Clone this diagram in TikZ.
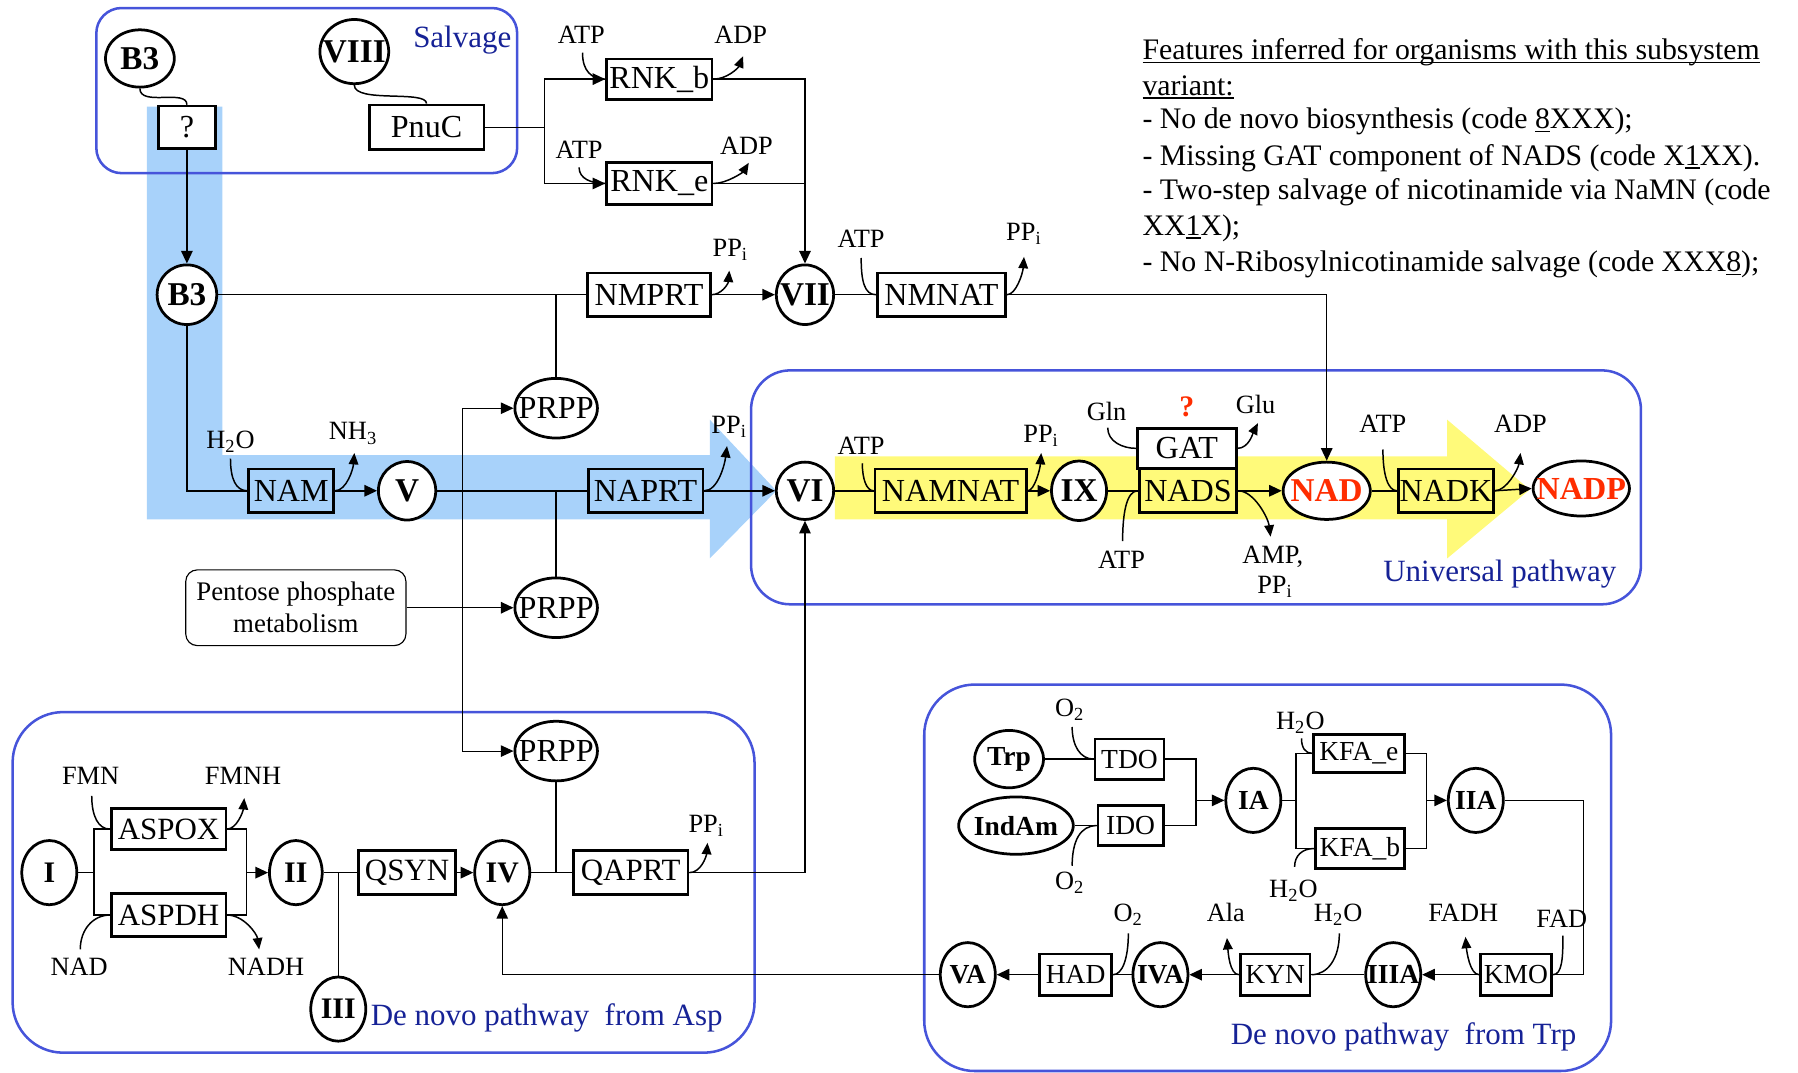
\documentclass[tikz,border=0pt]{standalone}
\usepackage{fontspec}
\setmainfont{Liberation Serif}
\usetikzlibrary{arrows.meta,shapes.geometric}
\definecolor{regblue}{RGB}{70,84,218}
\definecolor{txtblue}{RGB}{22,34,150}
\definecolor{bandblue}{RGB}{168,210,250}
\definecolor{bandyellow}{RGB}{255,250,122}
\definecolor{nadred}{RGB}{255,45,0}
\newcommand\fzEnz{\fontsize{14}{16}\selectfont}
\newcommand\fzAsp{\fontsize{13.5}{16}\selectfont}
\newcommand\fzTrp{\fontsize{12}{14}\selectfont}
\newcommand\fzLab{\fontsize{11.5}{13}\selectfont}
\newcommand\fzMet{\fontsize{14.5}{16}\selectfont\bfseries}
\newcommand\fzMetA{\fontsize{13}{15}\selectfont\bfseries}
\newcommand\fzMetT{\fontsize{12}{14}\selectfont\bfseries}
\newcommand\fzReg{\fontsize{13.5}{16}\selectfont}
\newcommand\fzFeat{\fontsize{13}{15}\selectfont}
\newcommand\zb[1]{\makebox[0pt]{#1}}
\newcommand\myul[1]{\leavevmode\setbox0\hbox{#1}\rlap{\rule[-1.6pt]{\wd0}{0.6pt}}\box0}
\pgfdeclarelayer{band}
\pgfdeclarelayer{bg}
\pgfsetlayers{band,bg,main}
\begin{document}
\begin{tikzpicture}[x=0.5pt,y=-0.5pt,
  enz/.style={draw, line width=1.2pt, inner sep=0pt, font=\fzEnz},
  aenz/.style={enz, font=\fzAsp},
  tenz/.style={enz, font=\fzTrp},
  met/.style={ellipse, draw, line width=1.2pt, fill=white, inner sep=0pt, font=\fzMet},
  amet/.style={met, font=\fzMetA},
  tmet/.style={met, font=\fzMetT},
  lab/.style={inner sep=0pt, font=\fzLab},
  ln/.style={line width=0.65pt},
  arr/.style={line width=0.65pt, -{Triangle[length=5.5pt,width=5pt]}},
  tarr/.style={line width=0.45pt, -{Triangle[length=5.5pt,width=5pt]}},
  sarr/.style={line width=0.65pt, -{Triangle[length=5pt,width=4.2pt]}},
  region/.style={draw=regblue, line width=1.1pt},
  reglab/.style={inner sep=0pt, font=\fzReg, text=txtblue, anchor=base west},
  feat/.style={inner sep=0pt, font=\fzFeat, anchor=base west}]
\useasboundingbox (0,0) rectangle (1568,935);
\clip (0,0) rectangle (1568,935);

% ---------- nodes: salvage ----------
\node[met, minimum width=30pt, minimum height=25pt] (b3a) at (122,51) {\zb{B3}};
\node[met, minimum width=30pt, minimum height=28pt] (viii) at (309,45) {\zb{VIII}};
\node[enz, fill=white, minimum width=25pt, minimum height=18.5pt] (q) at (163,111) {?};
\node[enz, fill=white, minimum width=50pt, minimum height=19.5pt] (pnuc) at (372,111) {PnuC};
\node[enz, fill=white, minimum width=46pt, minimum height=17.5pt] (rnkb) at (575,69) {RNK\_b};
\node[enz, fill=white, minimum width=46pt, minimum height=18.5pt] (rnke) at (575,160) {RNK\_e};
\node[met, minimum width=26pt, minimum height=26pt] (b3) at (163,257) {\zb{B3}};
\node[enz, minimum width=53.5pt, minimum height=19pt] (nmprt) at (566,257) {NMPRT};
\node[met, minimum width=25pt, minimum height=26pt] (vii) at (702,257) {\zb{VII}};
\node[enz, minimum width=56pt, minimum height=19pt] (nmnat) at (821,257) {NMNAT};
\node[met, font=\fzEnz, minimum width=36pt, minimum height=26pt] (prpp1) at (485,356) {\zb{PRPP}};
\node[met, font=\fzEnz, minimum width=36pt, minimum height=26pt] (prpp2) at (485,530) {\zb{PRPP}};
\node[met, font=\fzEnz, minimum width=36pt, minimum height=26pt] (prpp3) at (485,655) {\zb{PRPP}};
\node[enz, minimum width=37pt, minimum height=19pt] (nam) at (254,428) {NAM};
\node[met, minimum width=25pt, minimum height=25.5pt] (v) at (355,428) {\zb{V}};
\node[enz, minimum width=50pt, minimum height=19pt] (naprt) at (563,428) {NAPRT};
\node[draw, line width=0.5pt, rounded corners=5pt, minimum width=96pt, minimum height=33pt,
  align=center, inner sep=0pt, font=\fontsize{11.7}{14}\selectfont] (pent) at (258,530) {Pentose phosphate\\metabolism};

% ---------- universal ----------
\node[met, minimum width=25pt, minimum height=25pt] (vi) at (702,428) {\zb{VI}};
\node[enz, minimum width=66pt, minimum height=19pt] (namnat) at (829,428) {NAMNAT};
\node[met, minimum width=24pt, minimum height=26pt] (ix) at (941,428) {\zb{IX}};
\node[enz, minimum width=42.5pt, minimum height=19pt] (nads) at (1036,428) {NADS};
\node[enz, fill=white, minimum width=43pt, minimum height=17.5pt] (gat) at (1035,391) {GAT};
\node[met, text=nadred, minimum width=38pt, minimum height=25pt] (nad) at (1157,428) {\zb{NAD}};
\node[enz, minimum width=41.5pt, minimum height=19pt] (nadk) at (1261,428) {NADK};
\node[met, font=\fontsize{14}{16}\selectfont\bfseries, text=nadred, minimum width=42pt, minimum height=24pt] (nadp) at (1379,426) {\zb{NADP}};

% ---------- Asp ----------
\node[amet, minimum width=24pt, minimum height=28pt] (i) at (43,761) {\zb{I}};
\node[aenz, minimum width=50pt, minimum height=18pt] (aspox) at (147,723) {ASPOX};
\node[aenz, minimum width=50pt, minimum height=18.5pt] (aspdh) at (147,798) {ASPDH};
\node[amet, minimum width=23pt, minimum height=28pt] (ii) at (258,761) {\zb{II}};
\node[aenz, minimum width=42.5pt, minimum height=19pt] (qsyn) at (355,761) {QSYN};
\node[amet, minimum width=24pt, minimum height=28pt] (iii) at (295,880) {\zb{III}};
\node[amet, minimum width=24pt, minimum height=28pt] (iv) at (438,761) {\zb{IV}};
\node[aenz, minimum width=50pt, minimum height=19pt] (qaprt) at (550,761) {QAPRT};

% ---------- Trp ----------
\node[tmet, minimum width=30pt, minimum height=25pt] (trp) at (880,662) {\zb{Trp}};
\node[tmet, minimum width=50pt, minimum height=25pt] (indam) at (886,720) {\zb{IndAm}};
\node[tenz, minimum width=30pt, minimum height=17.5pt] (tdo) at (985,662) {TDO};
\node[tenz, minimum width=28.5pt, minimum height=17.5pt] (ido) at (986,720) {IDO};
\node[tmet, minimum width=24pt, minimum height=28pt] (ia) at (1093,698) {\zb{IA}};
\node[tenz, minimum width=39.5pt, minimum height=16.5pt] (kfae) at (1185,657) {KFA\_e};
\node[tenz, minimum width=39pt, minimum height=17.5pt] (kfab) at (1186,740) {KFA\_b};
\node[tmet, minimum width=24pt, minimum height=28pt] (iia) at (1287,698) {\zb{IIA}};
\node[tenz, minimum width=31pt, minimum height=18pt] (kmo) at (1322,850) {KMO};
\node[tmet, minimum width=24pt, minimum height=28pt] (iiia) at (1215,850) {\zb{IIIA}};
\node[tenz, minimum width=30.5pt, minimum height=18pt] (kyn) at (1112,850) {KYN};
\node[tmet, minimum width=24pt, minimum height=28pt] (iva) at (1012,850) {\zb{IVA}};
\node[tenz, minimum width=31.5pt, minimum height=18pt] (had) at (938,850) {HAD};
\node[tmet, minimum width=24pt, minimum height=28pt] (va) at (844,850) {\zb{VA}};

% ---------- labels ----------
\node[lab] (l1) at (507,30) {ATP};
\node[lab] (l2) at (646,30) {ADP};
\node[lab] (l3) at (505,131) {ATP};
\node[lab] (l4) at (651,127) {ADP};
\node[lab] (l5) at (637,218) {PP\textsubscript{i}};
\node[lab] (l6) at (751,208) {ATP};
\node[lab] (l7) at (893,204) {PP\textsubscript{i}};
\node[lab] (l8) at (201,385) {H\textsubscript{2}O};
\node[lab] (l9) at (308,378) {NH\textsubscript{3}};
\node[lab] (l10) at (636,372) {PP\textsubscript{i}};
\node[lab] (l11) at (751,389) {ATP};
\node[lab] (l12) at (908,380) {PP\textsubscript{i}};
\node[lab] (l13) at (965,359) {Gln};
\node[inner sep=0pt, font=\fontsize{13}{15}\selectfont\bfseries, text=nadred] (l14) at (1035,355) {?};
\node[lab] (l15) at (1095,353) {Glu};
\node[lab] (l16) at (978,488) {ATP};
\node[lab] (l17) at (1110,486) {AMP,};
\node[lab] (l18) at (1112,512) {PP\textsubscript{i}};
\node[lab] (l19) at (1206,370) {ATP};
\node[lab] (l20) at (1326,370) {ADP};
\node[lab] (l21) at (79,677) {FMN};
\node[lab] (l22) at (212,677) {FMNH};
\node[lab] (l23) at (69,843) {NAD};
\node[lab] (l24) at (232,843) {NADH};
\node[lab] (l25) at (616,720) {PP\textsubscript{i}};
\node[lab] (l26) at (933,619) {O\textsubscript{2}};
\node[lab] (l27) at (933,770) {O\textsubscript{2}};
\node[lab] (l28) at (1134,630) {H\textsubscript{2}O};
\node[lab] (l29) at (1128,777) {H\textsubscript{2}O};
\node[lab] (l30) at (984,798) {O\textsubscript{2}};
\node[lab] (l31) at (1069,796) {Ala};
\node[lab] (l32) at (1167,798) {H\textsubscript{2}O};
\node[lab] (l33) at (1276,796) {FADH};
\node[lab] (l34) at (1362,801) {FAD};

\node[reglab] (rsalv) at (360,41) {Salvage};
\node[reglab] (runiv) at (1206,507) {Universal pathway};
\node[reglab] (rasp) at (323,894) {De novo pathway\enspace from Asp};
\node[reglab] (rtrp) at (1073,911) {De novo pathway\enspace from Trp};

\node[feat] (f1) at (996,52) {\myul{Features inferred for organisms with this subsystem}};
\node[feat] (f2) at (996,83) {\myul{variant:}};
\node[feat] (f3) at (996,112) {- No de novo biosynthesis (code \myul{8}XXX);};
\node[feat] (f4) at (996,144) {- Missing GAT component of NADS (code X\myul{1}XX).};
\node[feat] (f5) at (996,174) {- Two-step salvage of nicotinamide via NaMN (code};
\node[feat] (f6) at (996,205) {XX\myul{1}X);};
\node[feat] (f7) at (996,237) {- No N-Ribosylnicotinamide salvage (code XXX\myul{8});};

% ---------- coordinates ----------
\coordinate (jp) at (475,111);
\coordinate (jt) at (403,356);
\coordinate (jb) at (403,655);
\coordinate (ja) at (82,761);
\coordinate (jb2) at (215,761);
\coordinate (jc) at (1043,698);
\coordinate (jd) at (1130,698);
\coordinate (je) at (1244,698);
\coordinate (jf) at (1381,698);

\coordinate (s1) at (508,46);
\coordinate (s2) at (505,146);
\coordinate (s3) at (751,225);
\coordinate (s4) at (201,400);
\coordinate (s5) at (752,404);
\coordinate (s6) at (966,373);
\coordinate (s7) at (979,472);
\coordinate (s8) at (1206,392);
\coordinate (s9) at (80,694);
\coordinate (s10) at (70,828);
\coordinate (s11) at (935,634);
\coordinate (s12) at (935,755);
\coordinate (s13) at (1135,644);
\coordinate (s14) at (1129,756);
\coordinate (s15) at (1363,816);
\coordinate (s16) at (1168,814);
\coordinate (s17) at (984,814);

\coordinate (t1) at (648,49);
\coordinate (t2) at (653,142);
\coordinate (t3) at (636,236);
\coordinate (t4) at (893,224);
\coordinate (t5) at (309,395);
\coordinate (t6) at (634,389);
\coordinate (t7) at (908,395);
\coordinate (t8) at (1097,369);
\coordinate (t9) at (1108,468);
\coordinate (t10) at (1326,395);
\coordinate (t11) at (213,696);
\coordinate (t12) at (226,828);
\coordinate (t13) at (617,735);
\coordinate (t14) at (1278,817);
\coordinate (t15) at (1070,818);

% ---------- bands ----------
\begin{pgfonlayer}{band}
\fill[bandblue] (128,93) -- (194,93) -- (194,397) -- (619,397) -- (619,366) -- (677,428)
  -- (619,487) -- (619,453) -- (128,453) -- cycle;
\fill[bandyellow] (728,398) -- (1262,398) -- (1262,366) -- (1334,427) -- (1262,487)
  -- (1262,453) -- (728,453) -- cycle;
\end{pgfonlayer}

% ---------- regions and connectors ----------
\begin{pgfonlayer}{bg}
\draw[region, rounded corners=11pt] (84,7) rectangle (451,151);
\draw[region, rounded corners=17pt] (655,323) rectangle (1431,527);
\draw[region, rounded corners=22pt] (11,621) rectangle (658,918);
\draw[region, rounded corners=22pt] (806,597) rectangle (1405,934);

% salvage
\draw[ln] (b3a.south) .. controls +(0,16) and +(0,-14) .. (q.north);
\draw[ln] (viii.south) .. controls +(0,16) and +(0,-12) .. (pnuc.north);
\draw[arr] (q.south) -- (b3.north);
\draw[ln] (pnuc.east) -- (jp);
\draw[arr] (jp) |- (rnkb.west);
\draw[arr] (jp) |- (rnke.west);
\draw[arr] (rnkb.east) -| (vii.north);
\draw[ln] (rnke.east) -- (rnke.east -| vii.north);
\draw[ln] (b3.east) -- (nmprt.west);
\draw[ln] (prpp1.north) -- (prpp1.north |- nmprt.west);
\draw[arr] (nmprt.east) -- (vii.west);
\draw[ln] (vii.east) -- (nmnat.west);
\draw[arr] (nmnat.east) -| (nad.north);
\draw[ln] (b3.south) |- (nam.west);
\draw[arr] (nam.east) -- (v.west);
\draw[ln] (v.east) -- (naprt.west);
\draw[ln] (prpp2.north) -- (prpp2.north |- naprt.west);
\draw[arr] (naprt.east) -- (vi.west);
\draw[arr] (pent.east) -- (prpp2.west);
\draw[tarr] (jt) -- (prpp1.west);
\draw[tarr] (jt) -- (jb) -- (prpp3.west);

% universal
\draw[ln] (vi.east) -- (namnat.west);
\draw[arr] (namnat.east) -- (ix.west);
\draw[ln] (ix.east) -- (nads.west);
\draw[arr] (nads.east) -- (nad.west);
\draw[ln] (nad.east) -- (nadk.west);
\draw[arr] (nadk.east) -- (nadp.west);

% Asp
\draw[ln] (i.east) -- (ja);
\draw[ln] (ja) |- (aspox.west);
\draw[ln] (ja) |- (aspdh.west);
\draw[ln] (aspox.east) -| (jb2);
\draw[ln] (aspdh.east) -| (jb2);
\draw[arr] (jb2) -- (ii.west);
\draw[ln] (ii.east) -- (qsyn.west);
\draw[ln] (iii.north) -- (iii.north |- ii.east);
\draw[arr] (qsyn.east) -- (iv.west);
\draw[ln] (iv.east) -- (qaprt.west);
\draw[ln] (prpp3.south) -- (prpp3.south |- qaprt.west);
\draw[arr] (qaprt.east) -| (vi.south);
\draw[arr] (va.west) -| (iv.south);

% Trp
\draw[ln] (trp.east) -- (tdo.west);
\draw[ln] (indam.east) -- (ido.west);
\draw[ln] (tdo.east) -| (jc);
\draw[ln] (ido.east) -| (jc);
\draw[arr] (jc) -- (ia.west);
\draw[ln] (ia.east) -- (jd);
\draw[ln] (jd) |- (kfae.west);
\draw[ln] (jd) |- (kfab.west);
\draw[ln] (kfae.east) -| (je);
\draw[ln] (kfab.east) -| (je);
\draw[arr] (je) -- (iia.west);
\draw[ln] (iia.east) -- (jf) |- (kmo.east);
\draw[arr] (kmo.west) -- (iiia.east);
\draw[ln] (iiia.west) -- (kyn.east);
\draw[arr] (kyn.west) -- (iva.east);
\draw[ln] (iva.west) -- (had.east);
\draw[arr] (had.west) -- (va.east);

% cofactor inputs
\draw[ln] (s1) .. controls +(0,16) and +(-12,0) .. (rnkb.west);
\draw[ln] (s2) .. controls +(0,10) and +(-12,0) .. (rnke.west);
\draw[ln] (s3) .. controls +(0,20) and +(-10,0) .. (nmnat.west);
\draw[ln] (s4) .. controls +(0,18) and +(-10,0) .. (nam.west);
\draw[ln] (s5) .. controls +(0,14) and +(-6,0) .. (namnat.west);
\draw[ln] (s6) .. controls +(0,12) and +(-12,0) .. (gat.west);
\draw[ln] (s7) .. controls +(0,-24) and +(-10,0) .. (nads.west);
\draw[ln] (s8) .. controls +(0,22) and +(-8,0) .. (nadk.west);
\draw[ln] (s9) .. controls +(0,18) and +(-10,0) .. (aspox.west);
\draw[ln] (s10) .. controls +(0,-18) and +(-14,0) .. (aspdh.west);
\draw[ln] (s11) .. controls +(0,16) and +(-12,0) .. (tdo.west);
\draw[ln] (s12) .. controls +(0,-22) and +(-14,0) .. (ido.west);
\draw[ln] (s13) .. controls +(0,8) and +(-6,0) .. (kfae.west);
\draw[ln] (s14) .. controls +(0,-10) and +(-10,0) .. (kfab.west);
\draw[ln] (s15) .. controls +(0,20) and +(8,0) .. (kmo.east);
\draw[ln] (s16) .. controls +(0,22) and +(14,0) .. (kyn.east);
\draw[ln] (s17) .. controls +(0,22) and +(8,0) .. (had.east);

% cofactor outputs
\draw[sarr] (rnkb.east) .. controls +(12,0) and +(-4,10) .. (t1);
\draw[sarr] (rnke.east) .. controls +(12,0) and +(-5,8) .. (t2);
\draw[sarr] (nmprt.east) .. controls +(8,0) and +(-1,12) .. (t3);
\draw[sarr] (nmnat.east) .. controls +(8,0) and +(-1,14) .. (t4);
\draw[sarr] (nam.east) .. controls +(10,0) and +(-1,14) .. (t5);
\draw[sarr] (naprt.east) .. controls +(12,0) and +(-2,16) .. (t6);
\draw[sarr] (namnat.east) .. controls +(6,0) and +(-1,14) .. (t7);
\draw[sarr] (gat.east) .. controls +(10,0) and +(-4,8) .. (t8);
\draw[sarr] (nads.east) .. controls +(14,0) and +(-2,-16) .. (t9);
\draw[sarr] (nadk.east) .. controls +(10,0) and +(-2,14) .. (t10);
\draw[sarr] (aspox.east) .. controls +(8,0) and +(-1,12) .. (t11);
\draw[sarr] (aspdh.east) .. controls +(14,0) and +(-2,-14) .. (t12);
\draw[sarr] (qaprt.east) .. controls +(10,0) and +(-1,12) .. (t13);
\draw[sarr] (kmo.west) .. controls +(-8,0) and +(1,12) .. (t14);
\draw[sarr] (kyn.west) .. controls +(-8,0) and +(1,12) .. (t15);
\end{pgfonlayer}
\end{tikzpicture}
\end{document}
